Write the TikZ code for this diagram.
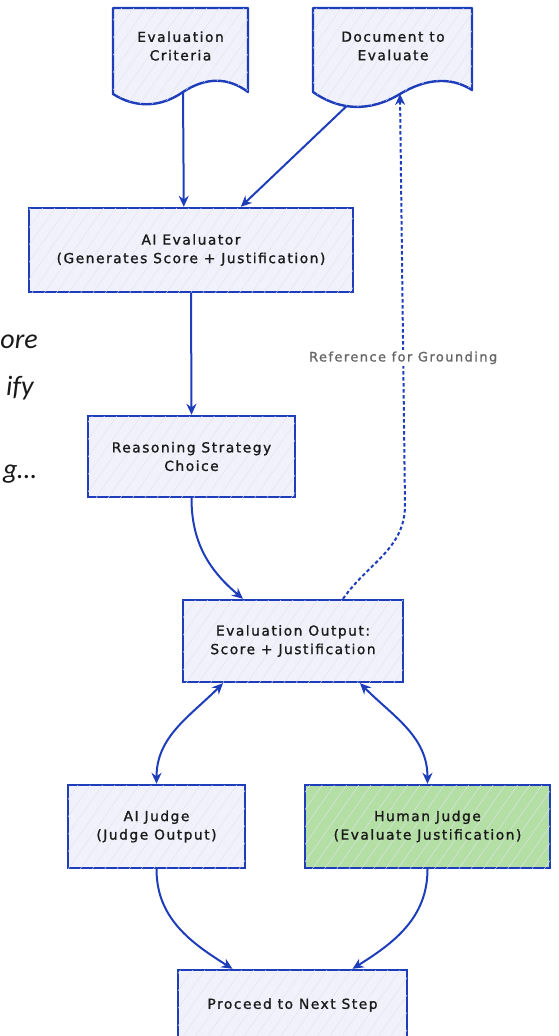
\documentclass[tikz,border=0pt]{standalone}
\usepackage{fontspec}
\newfontfamily\hand[LetterSpace=11,FakeBold=1.2]{DejaVu Sans}
\newfontfamily\slidefont{Carlito}
\usetikzlibrary{arrows.meta,patterns.meta,calc}

\definecolor{edge}{HTML}{1E3DBA}
\definecolor{boxfill}{HTML}{F0F1FA}
\definecolor{greenfill}{HTML}{B3DFA4}
\definecolor{ink}{HTML}{1A1A1A}
\definecolor{note}{HTML}{666666}
\definecolor{hatch}{HTML}{E1E3F0}

\tikzset{
  handtext/.style={font=\hand\fontsize{13.8}{18.5}\selectfont, text=ink, align=center},
  hachure/.style={postaction={pattern={Lines[angle=55,distance=10pt,line width=0.4pt]}, pattern color=hatch}},
  box/.style={handtext, draw=edge, line width=2.4pt, fill=boxfill, hachure, inner sep=0pt},
  docshape/.style={draw=edge, line width=2.4pt, fill=boxfill, hachure, line join=round},
  link/.style={draw=edge, line width=2pt, -{Stealth[length=11pt,width=10pt]}},
  twoway/.style={link, {Stealth[length=11pt,width=10pt]}-{Stealth[length=11pt,width=10pt]}},
  ref/.style={link, dash pattern=on 3.5pt off 2.5pt},
  reflabel/.style={font=\hand\fontsize{13}{15}\selectfont, text=note, fill=white, inner sep=2pt},
  slide/.style={font=\slidefont\itshape\fontsize{28}{32}\selectfont, text=black!90, anchor=base east, inner sep=0pt}
}

\begin{document}
\begin{tikzpicture}[x=1pt,y=1pt]
\useasboundingbox (0,0) rectangle (558,-1036);

% fragments of slide text at the left edge
\node[slide] (s1) at (38,-348) {ore};
\node[slide] (s2) at (34,-395) {ify};
\node[slide] (s3) at (37,-478) {g…};

% document shapes
\draw[docshape] (113,-8) -- (248,-8) -- (248,-92)
  .. controls (228,-77) and (206,-77) .. (183,-92) coordinate (d1out)
  .. controls (160,-108) and (135,-108) .. (113,-94) -- cycle;
\node[handtext] (crit) at (180.5,-46) {Evaluation\\Criteria};

\draw[docshape] (313,-8) -- (472,-8) -- (472,-90)
  .. controls (450,-76) and (425,-79) .. (400,-94) coordinate (d2in)
  .. controls (370,-112) and (340,-111) .. (313,-92) coordinate[pos=0.6] (d2out) -- cycle;
\node[handtext] (doc) at (393,-46) {Document to\\Evaluate};

% process boxes
\node[box, minimum width=324pt, minimum height=84pt] (aie) at (191,-250)
  {AI Evaluator\\(Generates Score + Justification)};
\node[box, minimum width=207pt, minimum height=81pt] (rsc) at (191.5,-456.5)
  {Reasoning Strategy\\Choice};
\node[box, minimum width=220pt, minimum height=82pt] (eo) at (293,-641)
  {Evaluation Output:\\Score + Justification};
\node[box, minimum width=177pt, minimum height=83pt] (aj) at (156.5,-826.5)
  {AI Judge\\(Judge Output)};
\node[box, fill=greenfill, minimum width=245pt, minimum height=83pt] (hj) at (427.5,-826.5)
  {Human Judge\\(Evaluate Justification)};
\node[box, minimum width=229pt, minimum height=70pt] (pr) at (292.5,-1005)
  {Proceed to Next Step};

% connectors
\draw[link] (d1out) -- ([xshift=156pt]aie.north west);
\draw[link] (d2out) -- ([xshift=213pt]aie.north west);
\draw[link] (aie.south) -- (rsc.north);
\draw[link] (rsc.south) to[out=-90,in=140] ([xshift=-50pt]eo.north);
\coordinate (refbend) at (405,-505);
\draw[ref] ([xshift=50pt]eo.north) to[out=55,in=-90] (refbend)
  -- node[reflabel, pos=0.358] {Reference for Grounding} (d2in);
\draw[twoway] ([xshift=-70pt]eo.south) to[out=-135,in=90] (aj.north);
\draw[twoway] ([xshift=67pt]eo.south) to[out=-45,in=90] (hj.north);
\draw[link] (aj.south) to[out=-90,in=148] ([xshift=-60pt]pr.north);
\draw[link] (hj.south) to[out=-90,in=32] ([xshift=60pt]pr.north);
\end{tikzpicture}
\end{document}
